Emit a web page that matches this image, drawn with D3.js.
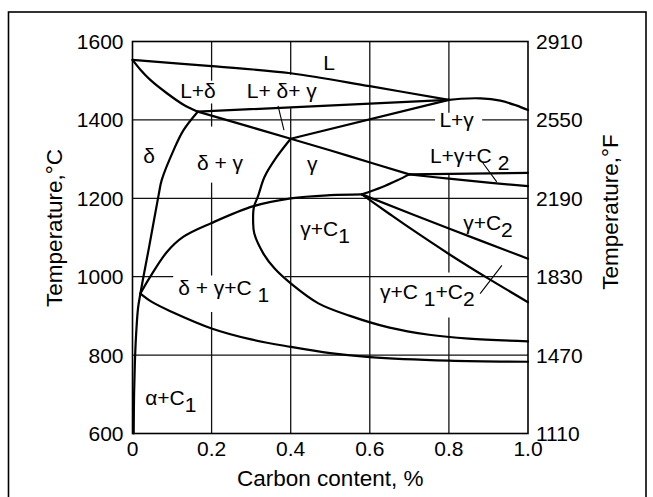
<!DOCTYPE html>
<html>
<head>
<meta charset="utf-8">
<title>Fe-C diagram, temperature vs carbon content</title>
<script src="https://d3js.org/d3.v7.min.js"></script>
<style>
body { margin: 0; background: #fff; }
svg text { font-family: "Liberation Sans", Arial, Helvetica, sans-serif; fill: #000; }
.border { fill: none; stroke: #000; stroke-width: 1.6; }
.frame { fill: none; stroke: #000; stroke-width: 1.6; }
.grid { stroke: #111; stroke-width: 1.3; }
.curve { fill: none; stroke: #000; stroke-width: 2.2; stroke-linejoin: round; stroke-linecap: round; }
.leader { stroke: #000; stroke-width: 1.1; }
.tick { font-size: 21px; }
.title { font-size: 22.5px; }
.lbl { font-size: 21px; }
</style>
</head>
<body>
<div id="chart"></div>
<script>
//------------------------ DATA ------------------------//

var carbonTicks = [0, 0.2, 0.4, 0.6, 0.8, 1.0];
var carbonTickLabels = ["0", "0.2", "0.4", "0.6", "0.8", "1.0"];
var tempC = [600, 800, 1000, 1200, 1400, 1600];
var tempF = ["1110", "1470", "1830", "2190", "2550", "2910"];

// phase boundaries, [carbon %, temperature C]
var liquidus      = [[0,1553],[0.2,1537],[0.4,1519],[0.6,1486],[0.8,1451]];
var liquidusGamma = [[0.8,1451],[0.83,1454],[0.88,1455],[0.93,1449],[0.97,1437],[1.0,1425]];
var deltaLiquidus = [[0,1553],[0.02,1528],[0.045,1502],[0.087,1468],[0.13,1438],[0.165,1421]];
var peritectic    = [[0.165,1421],[0.8,1451]];
var gammaLiquidus = [[0.4,1352],[0.8,1451]];
var deltaGamma    = [[0.165,1421],[0.4,1352],[0.55,1307],[0.7,1261]];
var eutUpper      = [[0.7,1261],[1.0,1265]];
var eutLower      = [[0.7,1261],[0.8,1250],[0.9,1240],[1.0,1231]];
var c1Line        = [[0.58,1210],[0.63,1228],[0.67,1246],[0.7,1261]];
var deltaC1       = [[0.02,957],[0.045,1000],[0.087,1063],[0.129,1102],[0.2,1137],[0.306,1180],[0.4,1200],[0.5,1208],[0.58,1210]];
var c2Upper       = [[0.58,1210],[0.8,1123],[1.0,1046]];
var c2Lower       = [[0.58,1210],[0.65,1160],[0.7,1125],[0.8,1058],[0.9,995],[1.0,935]];
var gammaSolvus   = [[0.4,1352],[0.365,1306],[0.334,1255],[0.317,1204],[0.307,1178],[0.305,1140],[0.308,1110],[0.331,1059],[0.36,1020],[0.4,983],[0.47,932],[0.55,900],[0.65,870],[0.75,852],[0.85,842],[1.0,835]];
var deltaSolvus   = [[0.165,1421],[0.129,1374],[0.104,1323],[0.074,1247],[0.066,1208],[0.042,1076],[0.026,991],[0.02,957],[0.014,920],[0.009,850],[0.006,780],[0.004,700],[0.003,600]];
var alphaSolvus   = [[0.02,957],[0.05,935],[0.1,910],[0.2,868],[0.3,840],[0.4,821],[0.5,805],[0.6,795],[0.8,786],[1.0,783]];

var boundaries = [liquidus, liquidusGamma, deltaLiquidus, peritectic, gammaLiquidus, deltaGamma,
                  eutUpper, eutLower, c1Line, deltaC1, c2Upper, c2Lower, gammaSolvus, deltaSolvus, alphaSolvus];

// grid lines with gaps left for the region labels
var gridV = [
  {c: 0.2, seg: [[1600,1500],[1442,1383],[1240,1003],[910,600]]},
  {c: 0.4, seg: [[1600,1515],[1430,600]]},
  {c: 0.6, seg: [[1600,600]]},
  {c: 0.8, seg: [[1600,1418],[1264,1011],[896,600]]}
];
var gridH = [
  {t: 1400, seg: [[0,0.765],[0.884,1]]},
  {t: 1200, seg: [[0,1]]},
  {t: 1000, seg: [[0,0.103],[0.385,1]]},
  {t: 800,  seg: [[0,1]]}
];

// region labels: "_n" = subscript n
var labels = [
  {text: "L",            c: 0.482,  t: 1528},
  {text: "L+δ",          c: 0.1205, t: 1455},
  {text: "L+ δ+ γ",      c: 0.289,  t: 1456},
  {text: "δ",            c: 0.027,  t: 1289},
  {text: "δ + γ",        c: 0.163,  t: 1272},
  {text: "γ",            c: 0.441,  t: 1270},
  {text: "L+γ",          c: 0.776,  t: 1382},
  {text: "L+γ+C _2",     c: 0.752,  t: 1290},
  {text: "γ+C_2",        c: 0.836,  t: 1119},
  {text: "γ+C_1",        c: 0.424,  t: 1103},
  {text: "δ + γ+C _1",   c: 0.1155, t: 953},
  {text: "γ+C _1+C_2",   c: 0.626,  t: 944},
  {text: "α+C_1",        c: 0.032,  t: 672}
];
var leaders = [
  [[0.368,1436],[0.383,1374]],
  [[0.886,1290],[0.921,1242]],
  [[0.934,1029],[0.879,957]]
];

//------------------------ SVG ------------------------//

var W = 653, H = 497;
var svg = d3.select("#chart").append("svg")
    .attr("width", W)
    .attr("height", H);

svg.append("rect").attr("class", "border")
    .attr("x", 8.5).attr("y", 12).attr("width", 637.5).attr("height", 500);

var x = d3.scaleLinear().domain([0, 1]).range([132.5, 528]);
var y = d3.scaleLinear().domain([600, 1600]).range([433.5, 41.5]);

// grid
var g = svg.append("g");
gridV.forEach(function(v) {
  v.seg.forEach(function(s) {
    g.append("line").attr("class", "grid")
      .attr("x1", x(v.c)).attr("x2", x(v.c))
      .attr("y1", y(s[0])).attr("y2", y(s[1]));
  });
});
gridH.forEach(function(h) {
  h.seg.forEach(function(s) {
    g.append("line").attr("class", "grid")
      .attr("x1", x(s[0])).attr("x2", x(s[1]))
      .attr("y1", y(h.t)).attr("y2", y(h.t));
  });
});

// plot frame
svg.append("rect").attr("class", "frame")
    .attr("x", x(0)).attr("y", y(1600))
    .attr("width", x(1) - x(0)).attr("height", y(600) - y(1600));

// boundaries
var line = d3.line()
    .x(function(d) { return x(d[0]); })
    .y(function(d) { return y(d[1]); })
    .curve(d3.curveCatmullRom.alpha(0.5));

svg.selectAll(".curve").data(boundaries).enter()
  .append("path").attr("class", "curve")
  .attr("d", line);

svg.selectAll(".leader").data(leaders).enter()
  .append("line").attr("class", "leader")
  .attr("x1", function(d) { return x(d[0][0]); })
  .attr("y1", function(d) { return y(d[0][1]); })
  .attr("x2", function(d) { return x(d[1][0]); })
  .attr("y2", function(d) { return y(d[1][1]); });

// labels
labels.forEach(function(l) {
  var t = svg.append("text").attr("class", "lbl")
    .attr("x", x(l.c)).attr("y", y(l.t));
  var parts = l.text.split(/_(\d)/);
  parts.forEach(function(p, i) {
    if (p === "") return;
    if (i % 2 === 1) {
      t.append("tspan").attr("dy", 7).text(p);
    } else {
      var sp = t.append("tspan").text(p);
      if (i > 0) sp.attr("dy", -7);
    }
  });
});

// tick labels
svg.selectAll(".tl").data(tempC).enter()
  .append("text").attr("class", "tick")
  .attr("x", x(0) - 9).attr("y", function(d) { return y(d) + 7.5; })
  .attr("text-anchor", "end")
  .text(function(d) { return d; });

svg.selectAll(".tr").data(tempF).enter()
  .append("text").attr("class", "tick")
  .attr("x", x(1) + 8).attr("y", function(d, i) { return y(tempC[i]) + 7.5; })
  .text(function(d) { return d; });

svg.selectAll(".tb").data(carbonTicks).enter()
  .append("text").attr("class", "tick")
  .attr("x", function(d) { return x(d); }).attr("y", 456)
  .attr("text-anchor", "middle")
  .text(function(d, i) { return carbonTickLabels[i]; });

// axis titles
svg.append("text").attr("class", "title")
  .attr("text-anchor", "middle")
  .attr("transform", "translate(62,228) rotate(-90)")
  .text("Temperature,°C");

svg.append("text").attr("class", "title")
  .attr("text-anchor", "middle")
  .attr("transform", "translate(618,212) rotate(-90)")
  .text("Temperature,°F");

svg.append("text").attr("class", "title")
  .attr("text-anchor", "middle")
  .attr("x", (x(0) + x(1)) / 2).attr("y", 486)
  .text("Carbon content, %");
</script>
</body>
</html>
